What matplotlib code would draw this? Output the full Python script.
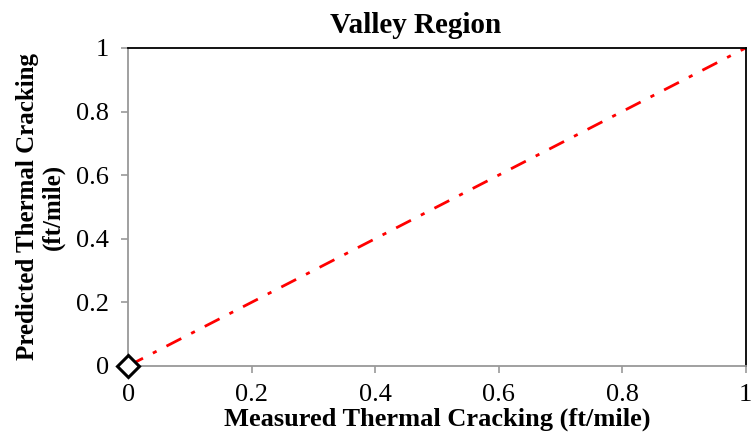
import matplotlib.pyplot as plt

# measured vs predicted thermal cracking, valley region
measured = [0]
predicted = [0]
# line of equality
eq_x = [0, 1]
eq_y = [0, 1]
ticks = [0, 0.2, 0.4, 0.6, 0.8, 1]
tick_labels = ['0', '0.2', '0.4', '0.6', '0.8', '1']

plt.rcParams['font.family'] = ['Liberation Serif', 'DejaVu Serif']

fig = plt.figure(figsize=(7.54, 4.44), dpi=100)
ax = fig.add_axes([0.170, 0.176, 0.819, 0.716])

ax.plot(eq_x, eq_y, color='red', linestyle=(0, (6, 4, 1.5, 4)), linewidth=2, zorder=2)
ax.plot(measured, predicted, linestyle='none', marker='D', markersize=11,
        markerfacecolor='white', markeredgecolor='black', markeredgewidth=2.2,
        zorder=3, clip_on=False)

ax.set_xlim(0, 1)
ax.set_ylim(0, 1)
ax.set_xticks(ticks)
ax.set_xticklabels(tick_labels)
ax.set_yticks(ticks)
ax.set_yticklabels(tick_labels)

for side in ['left', 'bottom']:
    ax.spines[side].set_color('#999999')
    ax.spines[side].set_linewidth(1.3)
for side in ['top', 'right']:
    ax.spines[side].set_color('black')
    ax.spines[side].set_linewidth(1.3)

ax.tick_params(direction='out', length=5, width=1.2, color='#999999',
               labelsize=19)
ax.tick_params(axis='y', pad=9)
ax.tick_params(axis='x', pad=8)

ax.set_title('Valley Region', fontsize=21, fontweight='bold', pad=11, x=0.466)
ax.set_xlabel('Measured Thermal Cracking (ft/mile)', fontsize=19, fontweight='bold', labelpad=1)
ax.set_ylabel('Predicted Thermal Cracking\n(ft/mile)', fontsize=18, fontweight='bold',
              labelpad=8, linespacing=1.1)

fig.savefig('out.png', dpi=100)
